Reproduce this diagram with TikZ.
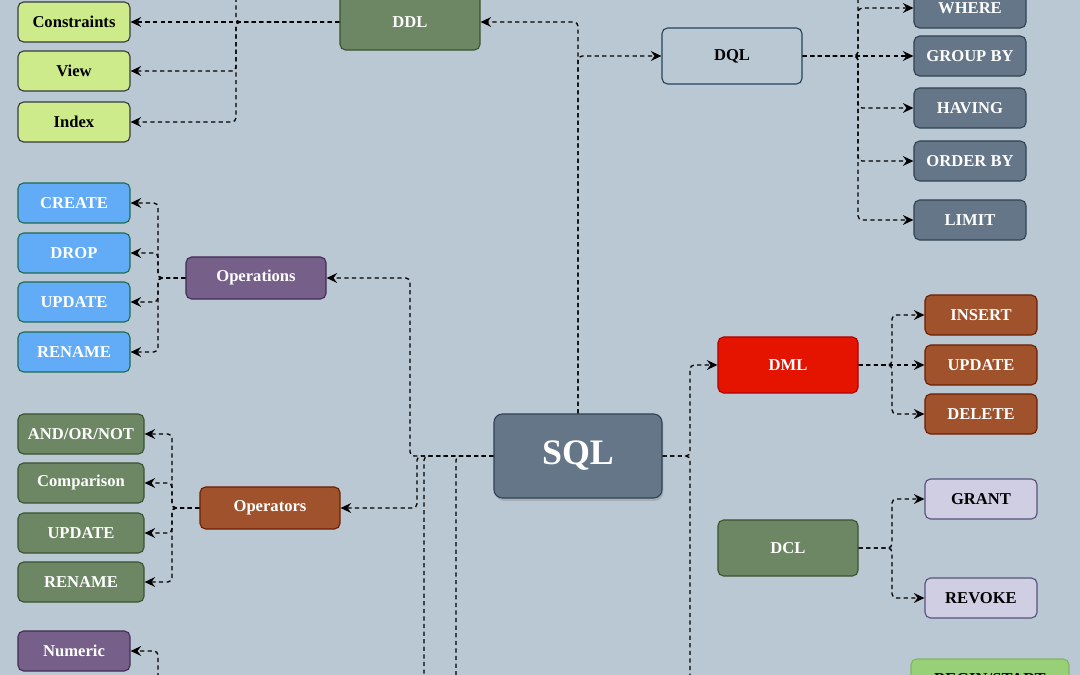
\documentclass[tikz,border=0pt]{standalone}
\usepackage{fontspec}
\setmainfont{Liberation Serif}
\usepackage{tikz}
\usetikzlibrary{arrows.meta}
\usetikzlibrary{shadows}
\definecolor{bgcol}{HTML}{BAC8D3}
\definecolor{limeF}{HTML}{CDEB8B}
\definecolor{limeD}{HTML}{36393D}
\definecolor{mossF}{HTML}{6D8764}
\definecolor{mossD}{HTML}{3A5431}
\definecolor{slateF}{HTML}{647687}
\definecolor{slateD}{HTML}{314354}
\definecolor{skyF}{HTML}{62ACF7}
\definecolor{skyD}{HTML}{1E6B52}
\definecolor{plumF}{HTML}{76608A}
\definecolor{plumD}{HTML}{432D57}
\definecolor{rustF}{HTML}{A0522D}
\definecolor{rustD}{HTML}{6D1F00}
\definecolor{redF}{HTML}{E51400}
\definecolor{redD}{HTML}{B20000}
\definecolor{lilacF}{HTML}{D0CEE2}
\definecolor{lilacD}{HTML}{56517E}
\definecolor{leafF}{HTML}{97D077}
\definecolor{leafD}{HTML}{82B366}
\definecolor{navyD}{HTML}{23445D}
\tikzset{
  box/.style={draw, rounded corners=4pt, line width=0.8pt, inner sep=0pt,
    minimum width=2.8cm, minimum height=1cm, text=white,
    font=\bfseries\fontsize{11.8}{13}\selectfont},
  mid/.style={minimum width=3.5cm, minimum height=1.4cm},
  wide/.style={minimum width=3.15cm},
  lime/.style={fill=limeF, draw=limeD, text=black},
  moss/.style={fill=mossF, draw=mossD},
  slate/.style={fill=slateF, draw=slateD},
  sky/.style={fill=skyF, draw=skyD},
  plum/.style={fill=plumF, draw=plumD},
  rust/.style={fill=rustF, draw=rustD},
  redbox/.style={fill=redF, draw=redD},
  lilac/.style={fill=lilacF, draw=lilacD, text=black},
  leafy/.style={fill=leafF, draw=leafD, text=black},
  link/.style={draw=black, line width=0.95pt, dash pattern=on 3pt off 2.4pt,
    rounded corners=3pt, -{Stealth[length=7.5pt,width=7pt,inset=2.6pt]}}
}
\newcommand{\leaf}[5]{\node[box,#1] (#2) at (#3,#4) {#5};}
\begin{document}
\begin{tikzpicture}[x=0.025cm,y=-0.025cm]
  \useasboundingbox (0,0) rectangle (1080,675);
  \fill[bgcol] (0,0) rectangle (1080,675);
  \clip (0,0) rectangle (1080,675);
  % root
  \node[box, slate, minimum width=4.2cm, minimum height=2.1cm, rounded corners=6pt,
    drop shadow={opacity=0.35, shadow xshift=1pt, shadow yshift=-2pt},
    font=\bfseries\fontsize{25.5}{28}\selectfont] (sql) at (578,456) {SQL};
  % DDL
  \leaf{moss,mid}{ddl}{410}{22}{DDL}
  \leaf{lime}{constraints}{74}{22}{Constraints}
  \leaf{lime}{view}{74}{71}{View}
  \leaf{lime}{index}{74}{122}{Index}
  % DQL
  \leaf{mid, draw=navyD, text=black}{dql}{732}{56}{DQL}
  \leaf{slate}{where}{970}{8}{WHERE}
  \leaf{slate}{groupby}{970}{56}{GROUP BY}
  \leaf{slate}{having}{970}{108}{HAVING}
  \leaf{slate}{orderby}{970}{161}{ORDER BY}
  \leaf{slate}{limit}{970}{220}{LIMIT}
  % operations
  \leaf{plum,mid,minimum height=1.05cm}{operations}{256}{278}{Operations}
  \leaf{sky}{create}{74}{203}{CREATE}
  \leaf{sky}{drop}{74}{253}{DROP}
  \leaf{sky}{opupdate}{74}{302}{UPDATE}
  \leaf{sky}{oprename}{74}{352}{RENAME}
  % operators
  \leaf{rust,mid,minimum height=1.05cm}{operators}{270}{508}{Operators}
  \leaf{moss,wide}{andornot}{81}{434}{AND/OR/NOT}
  \leaf{moss,wide}{comparison}{81}{483}{Comparison}
  \leaf{moss,wide}{orupdate}{81}{533}{UPDATE}
  \leaf{moss,wide}{orrename}{81}{582}{RENAME}
  \leaf{plum}{numeric}{74}{651}{Numeric}
  % DML / DCL
  \leaf{redbox,mid}{dml}{788}{365}{DML}
  \leaf{rust}{insert}{981}{315}{INSERT}
  \leaf{rust}{mlupdate}{981}{365}{UPDATE}
  \leaf{rust}{delete}{981}{414}{DELETE}
  \leaf{moss,mid}{dcl}{788}{548}{DCL}
  \leaf{lilac}{grant}{981}{499}{GRANT}
  \leaf{lilac}{revoke}{981}{598}{REVOKE}
  \leaf{leafy,minimum width=3.95cm}{beginstart}{990}{679}{BEGIN/START}

  \coordinate (ddlbus) at (236,22);
  \coordinate (ddlup) at (236,-30);
  \coordinate (dqlbus) at (858,56);
  \coordinate (dqlup) at (858,-30);
  \coordinate (opsbus) at (158,278);
  \coordinate (oprbus) at (172,508);
  \coordinate (leftbus) at (410,456);
  \coordinate (oprturn) at (417,456);
  \coordinate (downA) at (424,700);
  \coordinate (downB) at (456,700);
  \coordinate (numfeed) at (158,700);
  \coordinate (rightbus) at (690,456);
  \coordinate (tclfeed) at (690,700);
  \coordinate (dmlbus) at (892,365);
  \coordinate (dclbus) at (892,548);

  \draw[link] (sql.north) |- (ddl.east);
  \draw[link] (sql.north) |- (dql.west);
  \draw[link] (ddl.west) -- (constraints.east);
  \draw[link] (ddl.west) -- (ddlbus) |- (view.east);
  \draw[link] (ddl.west) -- (ddlbus) |- (index.east);
  \draw[link] (ddl.west) -| (ddlup);
  \draw[link] (dql.east) -- (groupby.west);
  \draw[link] (dql.east) -| (dqlup);
  \foreach \kid in {where,having,orderby,limit}
    \draw[link] (dql.east) -- (dqlbus) |- (\kid.west);
  \draw[link] (sql.west) -- (leftbus) |- (operations.east);
  \draw[link] (sql.west) -- (oprturn) |- (operators.east);
  \draw[link] (sql.west) -| (downA);
  \draw[link] (sql.west) -| (downB);
  \foreach \kid in {create,drop,opupdate,oprename}
    \draw[link] (operations.west) -- (opsbus) |- (\kid.east);
  \foreach \kid in {andornot,comparison,orupdate,orrename}
    \draw[link] (operators.west) -- (oprbus) |- (\kid.east);
  \draw[link] (numfeed) |- (numeric.east);
  \draw[link] (sql.east) -- (rightbus) |- (dml.west);
  \draw[link] (sql.east) -| (tclfeed);
  \draw[link] (dml.east) -- (mlupdate.west);
  \draw[link] (dml.east) -- (dmlbus) |- (insert.west);
  \draw[link] (dml.east) -- (dmlbus) |- (delete.west);
  \draw[link] (dcl.east) -- (dclbus) |- (grant.west);
  \draw[link] (dcl.east) -- (dclbus) |- (revoke.west);
\end{tikzpicture}
\end{document}
